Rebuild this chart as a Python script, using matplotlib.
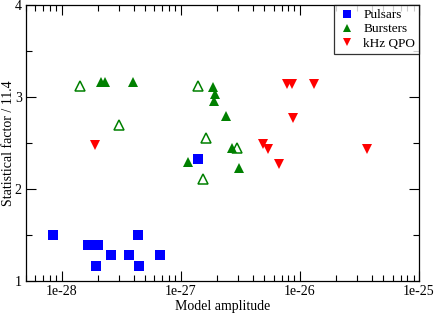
import matplotlib
matplotlib.use("Agg")
import matplotlib.pyplot as plt
from matplotlib.ticker import LogLocator, MultipleLocator, FixedLocator, FixedFormatter

plt.rcParams['font.family'] = ['Liberation Serif', 'DejaVu Serif']

# Pulsars
pulsar_x = [8.4e-29, 1.65e-28, 2.03e-28, 1.92e-28, 2.57e-28, 3.64e-28, 4.37e-28, 4.43e-28, 6.63e-28, 1.39e-27]
pulsar_y = [1.50, 1.39, 1.39, 1.16, 1.28, 1.28, 1.50, 1.16, 1.28, 2.33]

# Bursters (filled)
burst_x = [2.15e-28, 2.32e-28, 3.94e-28, 1.86e-27, 1.94e-27, 1.91e-27, 2.39e-27, 2.71e-27, 3.05e-27, 1.14e-27]
burst_y = [3.16, 3.16, 3.16, 3.11, 3.03, 2.96, 2.79, 2.45, 2.23, 2.29]

# Bursters (open)
burst_open_x = [1.43e-28, 3.03e-28, 1.39e-27, 1.62e-27, 2.95e-27, 1.52e-27]
burst_open_y = [3.12, 2.70, 3.12, 2.55, 2.45, 2.11]

# kHz QPO
qpo_x = [1.9e-28, 7.84e-27, 8.53e-27, 1.31e-26, 8.7e-27, 4.93e-27, 5.37e-27, 3.63e-26, 6.68e-27]
qpo_y = [2.48, 3.14, 3.14, 3.14, 2.77, 2.49, 2.44, 2.44, 2.27]

x_ticks = [1e-28, 1e-27, 1e-26, 1e-25]
x_ticklabels = ['1e-28', '1e-27', '1e-26', '1e-25']
y_ticks = [1, 2, 3, 4]

fig = plt.figure(figsize=(4.36, 3.13), dpi=100)
ax = fig.add_axes([26/436, 1 - 281/313, (419 - 26)/436, (281 - 5)/313])

green = '#008000'
ax.plot(pulsar_x, pulsar_y, 's', color='#0000ff', ms=6.5, mew=0, label='Pulsars')
ax.plot(burst_x, burst_y, '^', color=green, ms=7.5, mew=0, label='Bursters')
ax.plot(burst_open_x, burst_open_y, '^', mfc='none', mec=green, ms=7, mew=1.1)
ax.plot(qpo_x, qpo_y, 'v', color='#ff0000', ms=7.5, mew=0, label='kHz QPO')

ax.set_xscale('log')
ax.set_xlim(5e-29, 1e-25)
ax.set_ylim(1, 4)
ax.xaxis.set_major_locator(FixedLocator(x_ticks))
ax.xaxis.set_major_formatter(FixedFormatter(x_ticklabels))
ax.xaxis.set_minor_locator(LogLocator(base=10, subs=range(2, 10)))
ax.yaxis.set_major_locator(FixedLocator(y_ticks))
ax.yaxis.set_minor_locator(MultipleLocator(0.5))

ax.tick_params(which='both', direction='in', top=True, right=True, labelsize=10, width=0.8, colors='black')
ax.tick_params(which='major', length=7, pad=3)
ax.tick_params(which='minor', length=4)
for s in ax.spines.values():
    s.set_linewidth(0.9)

ax.set_xlabel('Model amplitude', fontsize=10, labelpad=1)
ax.set_ylabel('Statistical factor / 11.4', fontsize=10, labelpad=0)

leg = ax.legend(loc='upper right', borderaxespad=0, fontsize=9.5, frameon=True, fancybox=False,
                markerscale=0.8, handlelength=1.4, handletextpad=0.5, borderpad=0.3, labelspacing=0.15)
leg.get_frame().set_edgecolor('black')
leg.get_frame().set_linewidth(0.9)

fig.savefig('out.png', dpi=100)
